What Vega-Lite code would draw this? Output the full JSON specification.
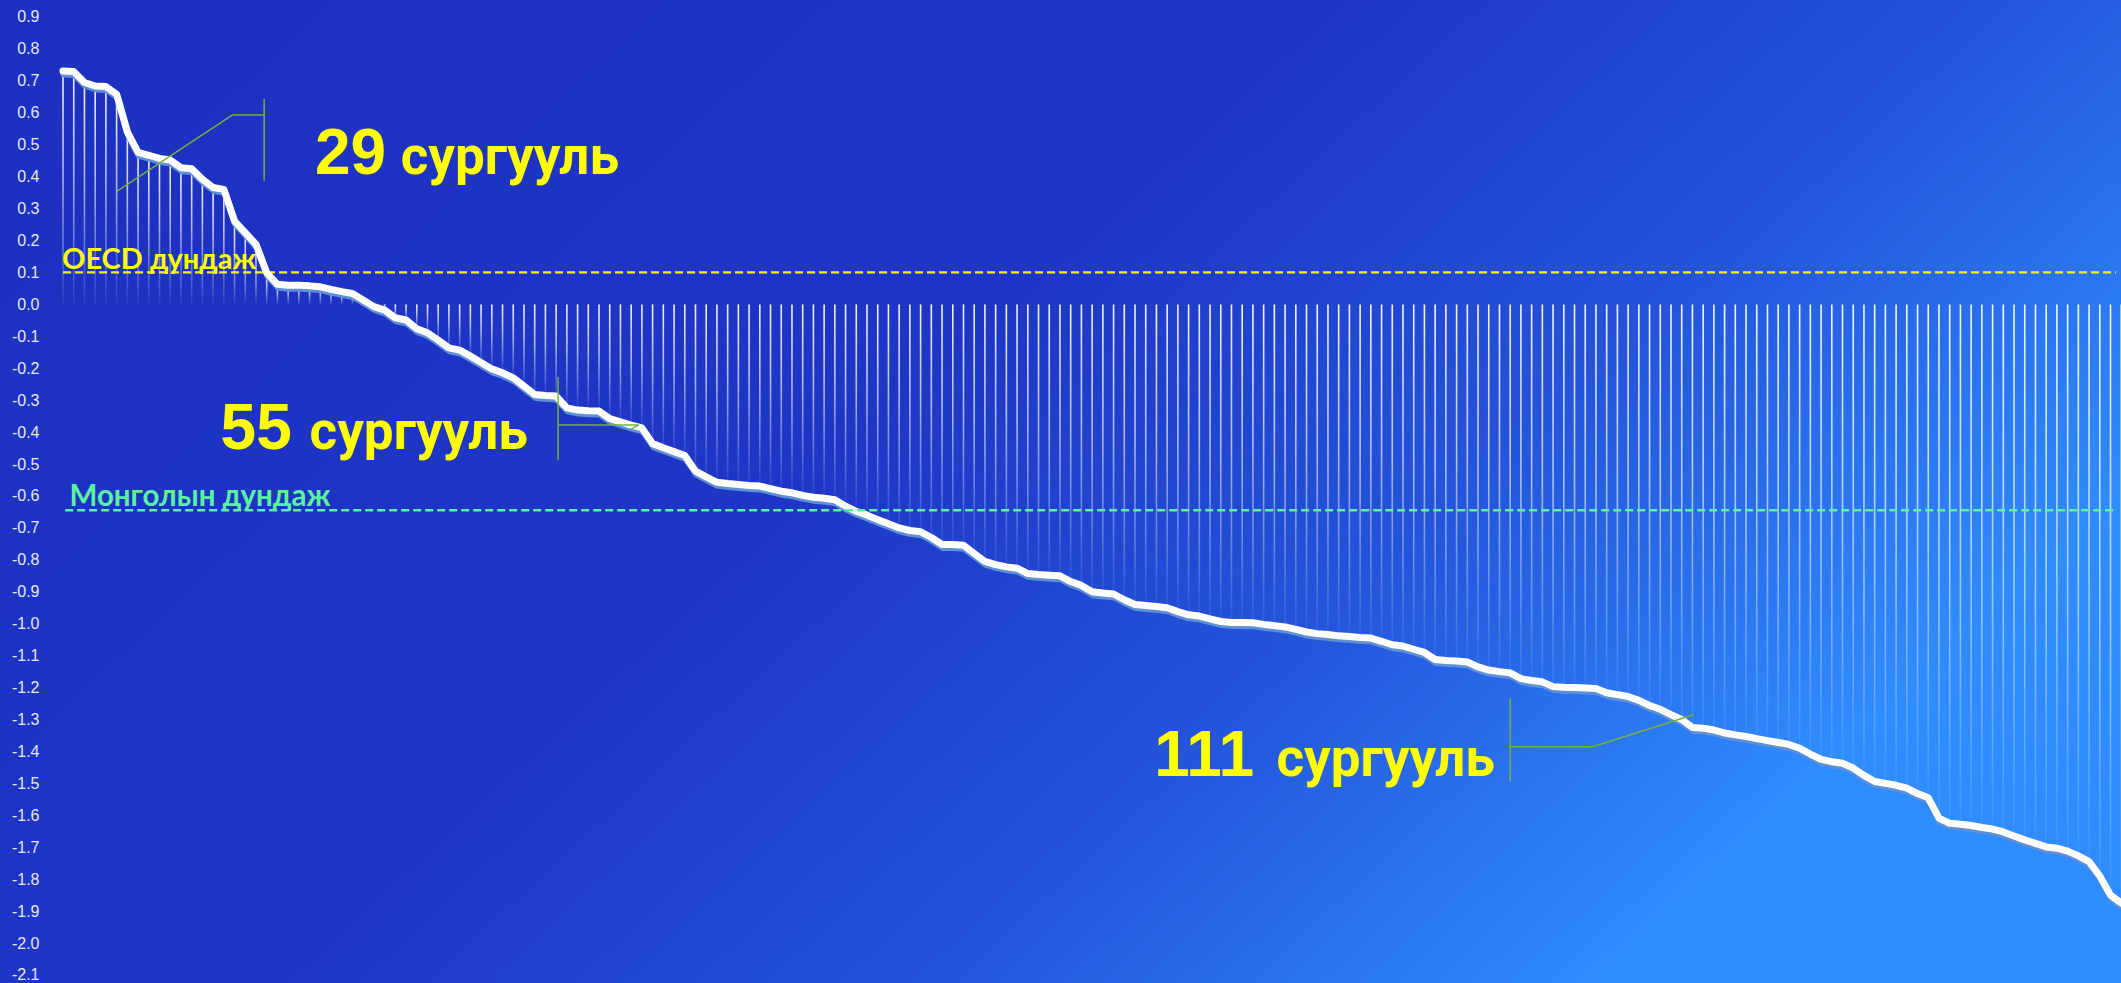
{
  "$schema": "https://vega.github.io/schema/vega-lite/v6.json",
  "autosize": {"type": "none"},
  "padding": 0,
  "width": 2121,
  "height": 983,
  "background": "#1d31c1",
  "config": {
    "view": {
      "stroke": null,
      "fill": {
        "gradient": "linear", "x1": 0, "y1": 0, "x2": 1, "y2": 0.5,
        "stops": [
          {"offset": 0, "color": "#1d30c0"},
          {"offset": 0.5, "color": "#1e36c6"},
          {"offset": 0.75, "color": "#2454da"},
          {"offset": 1, "color": "#2f8cff"}
        ]
      }
    },
    "axisX": {"disable": true},
    "axisY": {
      "domain": false, "ticks": false, "tickSize": 0, "grid": false, "offset": -45,
      "labelColor": "#e4e7f6", "labelFont": "Liberation Sans", "labelFontSize": 16,
      "labelPadding": 6, "tickCount": 30, "labelOverlap": false, "labelFlush": false, "labelBound": false,
      "labelExpr": "replace(format(datum.value, '.1f'), '\u2212', '-')"
    }
  },
  "datasets": {
    "pts": [
      {"i":0,"v":0.731},{"i":1,"v":0.729},{"i":2,"v":0.695},{"i":3,"v":0.684},{"i":4,"v":0.682},
      {"i":5,"v":0.658},{"i":6,"v":0.540},{"i":7,"v":0.476},{"i":8,"v":0.467},{"i":9,"v":0.457},
      {"i":10,"v":0.452},{"i":11,"v":0.428},{"i":12,"v":0.425},{"i":13,"v":0.392},{"i":14,"v":0.366},
      {"i":15,"v":0.360},{"i":16,"v":0.261},{"i":17,"v":0.225},{"i":18,"v":0.188},{"i":19,"v":0.099},
      {"i":20,"v":0.063},{"i":21,"v":0.060},{"i":22,"v":0.060},{"i":23,"v":0.058},{"i":24,"v":0.055},
      {"i":25,"v":0.047},{"i":26,"v":0.040},{"i":27,"v":0.034},{"i":28,"v":0.014},{"i":29,"v":-0.007},
      {"i":30,"v":-0.018},{"i":31,"v":-0.042},{"i":32,"v":-0.049},{"i":33,"v":-0.076},{"i":34,"v":-0.089},
      {"i":35,"v":-0.112},{"i":36,"v":-0.136},{"i":37,"v":-0.143},{"i":38,"v":-0.162},{"i":39,"v":-0.182},
      {"i":40,"v":-0.202},{"i":41,"v":-0.214},{"i":42,"v":-0.230},{"i":43,"v":-0.256},{"i":44,"v":-0.282},
      {"i":45,"v":-0.285},{"i":46,"v":-0.287},{"i":47,"v":-0.324},{"i":48,"v":-0.331},{"i":49,"v":-0.333},
      {"i":50,"v":-0.334},{"i":51,"v":-0.358},{"i":52,"v":-0.368},{"i":53,"v":-0.378},{"i":54,"v":-0.387},
      {"i":55,"v":-0.436},{"i":56,"v":-0.449},{"i":57,"v":-0.461},{"i":58,"v":-0.473},{"i":59,"v":-0.522},
      {"i":60,"v":-0.540},{"i":61,"v":-0.557},{"i":62,"v":-0.561},{"i":63,"v":-0.564},{"i":64,"v":-0.567},
      {"i":65,"v":-0.569},{"i":66,"v":-0.577},{"i":67,"v":-0.585},{"i":68,"v":-0.590},{"i":69,"v":-0.598},
      {"i":70,"v":-0.604},{"i":71,"v":-0.607},{"i":72,"v":-0.612},{"i":73,"v":-0.632},{"i":74,"v":-0.648},
      {"i":75,"v":-0.660},{"i":76,"v":-0.674},{"i":77,"v":-0.687},{"i":78,"v":-0.700},{"i":79,"v":-0.708},
      {"i":80,"v":-0.712},{"i":81,"v":-0.730},{"i":82,"v":-0.752},{"i":83,"v":-0.752},{"i":84,"v":-0.754},
      {"i":85,"v":-0.780},{"i":86,"v":-0.805},{"i":87,"v":-0.815},{"i":88,"v":-0.822},{"i":89,"v":-0.826},
      {"i":90,"v":-0.843},{"i":91,"v":-0.846},{"i":92,"v":-0.848},{"i":93,"v":-0.850},{"i":94,"v":-0.868},
      {"i":95,"v":-0.880},{"i":96,"v":-0.900},{"i":97,"v":-0.904},{"i":98,"v":-0.907},{"i":99,"v":-0.925},
      {"i":100,"v":-0.940},{"i":101,"v":-0.943},{"i":102,"v":-0.946},{"i":103,"v":-0.950},{"i":104,"v":-0.962},
      {"i":105,"v":-0.972},{"i":106,"v":-0.976},{"i":107,"v":-0.985},{"i":108,"v":-0.993},{"i":109,"v":-0.996},
      {"i":110,"v":-0.996},{"i":111,"v":-0.997},{"i":112,"v":-1.002},{"i":113,"v":-1.006},{"i":114,"v":-1.010},
      {"i":115,"v":-1.018},{"i":116,"v":-1.026},{"i":117,"v":-1.031},{"i":118,"v":-1.034},{"i":119,"v":-1.038},
      {"i":120,"v":-1.040},{"i":121,"v":-1.043},{"i":122,"v":-1.045},{"i":123,"v":-1.055},{"i":124,"v":-1.066},
      {"i":125,"v":-1.070},{"i":126,"v":-1.080},{"i":127,"v":-1.090},{"i":128,"v":-1.112},{"i":129,"v":-1.115},
      {"i":130,"v":-1.117},{"i":131,"v":-1.120},{"i":132,"v":-1.135},{"i":133,"v":-1.145},{"i":134,"v":-1.150},
      {"i":135,"v":-1.154},{"i":136,"v":-1.172},{"i":137,"v":-1.178},{"i":138,"v":-1.182},{"i":139,"v":-1.197},
      {"i":140,"v":-1.199},{"i":141,"v":-1.200},{"i":142,"v":-1.201},{"i":143,"v":-1.203},{"i":144,"v":-1.216},
      {"i":145,"v":-1.222},{"i":146,"v":-1.228},{"i":147,"v":-1.240},{"i":148,"v":-1.256},{"i":149,"v":-1.268},
      {"i":150,"v":-1.285},{"i":151,"v":-1.300},{"i":152,"v":-1.325},{"i":153,"v":-1.327},{"i":154,"v":-1.333},
      {"i":155,"v":-1.342},{"i":156,"v":-1.348},{"i":157,"v":-1.353},{"i":158,"v":-1.360},{"i":159,"v":-1.366},
      {"i":160,"v":-1.372},{"i":161,"v":-1.378},{"i":162,"v":-1.390},{"i":163,"v":-1.408},{"i":164,"v":-1.425},
      {"i":165,"v":-1.432},{"i":166,"v":-1.437},{"i":167,"v":-1.452},{"i":168,"v":-1.475},{"i":169,"v":-1.494},
      {"i":170,"v":-1.500},{"i":171,"v":-1.506},{"i":172,"v":-1.515},{"i":173,"v":-1.532},{"i":174,"v":-1.545},
      {"i":175,"v":-1.609},{"i":176,"v":-1.625},{"i":177,"v":-1.628},{"i":178,"v":-1.632},{"i":179,"v":-1.638},
      {"i":180,"v":-1.643},{"i":181,"v":-1.652},{"i":182,"v":-1.665},{"i":183,"v":-1.677},{"i":184,"v":-1.688},
      {"i":185,"v":-1.699},{"i":186,"v":-1.703},{"i":187,"v":-1.712},{"i":188,"v":-1.727},{"i":189,"v":-1.745},
      {"i":190,"v":-1.790},{"i":191,"v":-1.850},{"i":192,"v":-1.875}
    ],
    "refs": [
      {"name":"OECD","v":0.1,"i":0,"i2":191.5},
      {"name":"MN","v":-0.645,"i":0.2,"i2":191.5}
    ],
    "segs": [
      {"i":18.76,"v":0.643,"i2":18.76,"v2":0.387},
      {"i":18.76,"v":0.593,"i2":15.78,"v2":0.593},
      {"i":15.78,"v":0.593,"i2":5.05,"v2":0.355},
      {"i":46.18,"v":-0.227,"i2":46.18,"v2":-0.488},
      {"i":46.18,"v":-0.378,"i2":53.7,"v2":-0.378},
      {"i":53.7,"v":-0.378,"i2":53.0,"v2":-0.39},
      {"i":135.0,"v":-1.233,"i2":135.0,"v2":-1.494},
      {"i":135.0,"v":-1.385,"i2":142.7,"v2":-1.385},
      {"i":142.7,"v":-1.385,"i2":152.1,"v2":-1.285}
    ],
    "nums": [
      {"t":"29","i":23.5,"v":0.4075},
      {"t":"55","i":14.7,"v":-0.452},
      {"t":"111","i":101.8,"v":-1.4765}
    ],
    "words": [
      {"t":"сургууль","i":31.5,"v":0.4075},
      {"t":"сургууль","i":23.0,"v":-0.452},
      {"t":"сургууль","i":113.2,"v":-1.4765}
    ],
    "oecdlab": [{"t":"OECD дундаж","i":-0.1,"v":0.11}],
    "mnlab": [{"t":"Монголын дундаж","i":0.6,"v":-0.63}]
  },
  "layer": [
    {
      "data": {"name": "pts"},
      "mark": {
        "type": "bar", "size": 1.6,
        "color": {
          "gradient": "linear", "x1": 0, "y1": 0, "x2": 0, "y2": 1,
          "stops": [
            {"offset": 0, "color": "rgba(255,255,255,0.95)"},
            {"offset": 0.45, "color": "rgba(255,255,255,0.62)"},
            {"offset": 1, "color": "rgba(255,255,255,0.05)"}
          ]
        }
      },
      "encoding": {
        "x": {"field": "i", "type": "quantitative", "title": null, "axis": null,
              "scale": {"domain": [-5.4127, 191.512], "nice": false, "zero": false}},
        "y": {"field": "v", "type": "quantitative", "title": null,
              "scale": {"domain": [-2.1251, 0.9532], "nice": false, "zero": false}},
        "y2": {"datum": 0}
      }
    },
    {
      "data": {"name": "refs"},
      "transform": [{"filter": "datum.name === 'OECD'"}],
      "mark": {"type": "rule", "color": "#f4f21c", "strokeWidth": 2.2, "strokeDash": [8, 4]},
      "encoding": {
        "x": {"field": "i", "type": "quantitative", "axis": null},
        "x2": {"field": "i2"},
        "y": {"field": "v", "type": "quantitative", "title": null}
      }
    },
    {
      "data": {"name": "pts"},
      "mark": {"type": "line", "color": "#5f8fd6", "strokeWidth": 7, "yOffset": 3, "xOffset": 1, "strokeJoin": "round", "strokeCap": "round"},
      "encoding": {
        "x": {"field": "i", "type": "quantitative", "axis": null},
        "y": {"field": "v", "type": "quantitative", "title": null}
      }
    },
    {
      "data": {"name": "pts"},
      "mark": {"type": "line", "color": "#ffffff", "strokeWidth": 7, "strokeJoin": "round", "strokeCap": "round"},
      "encoding": {
        "x": {"field": "i", "type": "quantitative", "axis": null},
        "y": {"field": "v", "type": "quantitative", "title": null}
      }
    },
    {
      "data": {"name": "refs"},
      "transform": [{"filter": "datum.name === 'MN'"}],
      "mark": {"type": "rule", "color": "#5cf0a2", "strokeWidth": 2.5, "strokeDash": [8, 4]},
      "encoding": {
        "x": {"field": "i", "type": "quantitative", "axis": null},
        "x2": {"field": "i2"},
        "y": {"field": "v", "type": "quantitative", "title": null}
      }
    },
    {
      "data": {"name": "segs"},
      "mark": {"type": "rule", "color": "#74b23e", "strokeWidth": 1.5},
      "encoding": {
        "x": {"field": "i", "type": "quantitative", "axis": null},
        "x2": {"field": "i2"},
        "y": {"field": "v", "type": "quantitative", "title": null},
        "y2": {"field": "v2"}
      }
    },
    {
      "data": {"name": "nums"},
      "mark": {"type": "text", "align": "left", "baseline": "alphabetic", "font": "Liberation Sans", "fontWeight": "bold", "fontSize": 64, "color": "#ffff00"},
      "encoding": {
        "x": {"field": "i", "type": "quantitative", "axis": null},
        "y": {"field": "v", "type": "quantitative", "title": null},
        "text": {"field": "t"}
      }
    },
    {
      "data": {"name": "words"},
      "mark": {"type": "text", "align": "left", "baseline": "alphabetic", "font": "Roboto", "fontWeight": "bold", "fontSize": 53, "color": "#ffff00"},
      "encoding": {
        "x": {"field": "i", "type": "quantitative", "axis": null},
        "y": {"field": "v", "type": "quantitative", "title": null},
        "text": {"field": "t"}
      }
    },
    {
      "data": {"name": "oecdlab"},
      "mark": {"type": "text", "align": "left", "baseline": "alphabetic", "font": "Lato", "fontWeight": "bold", "fontSize": 29, "color": "#ffff00"},
      "encoding": {
        "x": {"field": "i", "type": "quantitative", "axis": null},
        "y": {"field": "v", "type": "quantitative", "title": null},
        "text": {"field": "t"}
      }
    },
    {
      "data": {"name": "mnlab"},
      "mark": {"type": "text", "align": "left", "baseline": "alphabetic", "font": "Lato", "fontWeight": "bold", "fontSize": 29.5, "color": "#5cf0a2"},
      "encoding": {
        "x": {"field": "i", "type": "quantitative", "axis": null},
        "y": {"field": "v", "type": "quantitative", "title": null},
        "text": {"field": "t"}
      }
    }
  ]
}
